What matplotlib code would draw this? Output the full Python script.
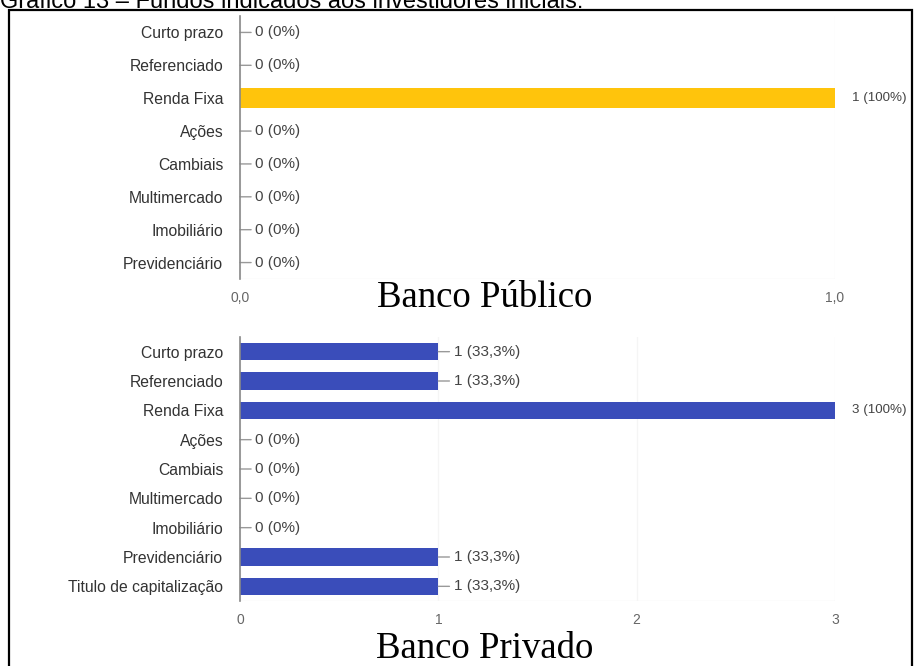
import matplotlib
matplotlib.use("Agg")
import matplotlib.pyplot as plt
from matplotlib.patches import Rectangle

# ---- data ----
pub_categories = ["Curto prazo", "Referenciado", "Renda Fixa", "Ações", "Cambiais",
                  "Multimercado", "Imobiliário", "Previdenciário"]
pub_values = [0, 0, 1, 0, 0, 0, 0, 0]
pub_respondents = 1
pub_ticks = [0, 1]
pub_ticklabels = ["0,0", "1,0"]

priv_categories = ["Curto prazo", "Referenciado", "Renda Fixa", "Ações", "Cambiais",
                   "Multimercado", "Imobiliário", "Previdenciário", "Titulo de capitalização"]
priv_values = [1, 1, 3, 0, 0, 0, 0, 1, 1]
priv_respondents = 3
priv_ticks = [0, 1, 2, 3]
priv_ticklabels = ["0", "1", "2", "3"]

title_text = "Gráfico 13 – Fundos indicados aos investidores iniciais:"
pub_title = "Banco Público"
priv_title = "Banco Privado"

W, H = 914, 666
fig = plt.figure(figsize=(W / 100, H / 100), dpi=100)
fig.patch.set_facecolor("white")

plt.rcParams["font.family"] = ["Liberation Sans", "DejaVu Sans"]


def fmt_pct(v, n):
    p = 100.0 * v / n
    if abs(p - round(p)) < 1e-9:
        return f"{int(round(p))}%"
    return f"{p:.1f}%".replace(".", ",")


def draw(ax, cats, vals, n, color, ticks, ticklabels, xmax):
    y = list(range(len(cats)))
    ax.barh(y, vals, height=0.6, color=color, zorder=3)
    ax.set_ylim(len(cats) - 0.5, -0.5)
    ax.set_xlim(0, xmax)
    ax.set_yticks(y)
    ax.set_yticklabels(cats, fontsize=11.3, color="#333333")
    ax.set_xticks(ticks)
    ax.set_xticklabels(ticklabels, fontsize=10, color="#666666")
    ax.tick_params(axis="y", length=0, pad=12)
    ax.tick_params(axis="x", length=0, pad=9)
    for s in ["top", "right", "bottom"]:
        ax.spines[s].set_visible(False)
    ax.spines["left"].set_color("#888888")
    ax.spines["left"].set_linewidth(1.2)
    ax.spines["left"].set_zorder(4)
    ax.grid(axis="x", color="#f5f5f5", lw=1, zorder=0)
    ax.axhline(len(cats) - 0.5, color="#f3f3f3", lw=1, zorder=0)
    vmax = max(vals)
    for i, v in enumerate(vals):
        lab = f"{v} ({fmt_pct(v, n)})"
        if v == vmax:
            ax.annotate(lab, xy=(v, i), xytext=(12, 0), textcoords="offset points",
                        ha="left", va="center", fontsize=9.6, color="#444444",
                        annotation_clip=False)
        else:
            ax.annotate(lab, xy=(v, i), xytext=(11, 0), textcoords="offset points",
                        ha="left", va="center", fontsize=11, color="#444444",
                        annotation_clip=False,
                        arrowprops=dict(arrowstyle="-", color="#999999", lw=1,
                                        relpos=(0, 0.5), shrinkA=1, shrinkB=0))


x0 = 240 / W
wax = 595 / W
ax1 = fig.add_axes([x0, 1 - 279 / H, wax, 263 / H])
draw(ax1, pub_categories, pub_values, pub_respondents, "#FFC40C",
     pub_ticks, pub_ticklabels, 1)

ax2 = fig.add_axes([x0, 1 - 601 / H, wax, 264 / H])
draw(ax2, priv_categories, priv_values, priv_respondents, "#3A4DBA",
     priv_ticks, priv_ticklabels, 3)

fig.text(485 / W, 1 - 298 / H, pub_title, family="Liberation Serif", fontsize=26.5,
         ha="center", va="center", color="black")
fig.text(485 / W, 1 - 649 / H, priv_title, family="Liberation Serif", fontsize=26.5,
         ha="center", va="center", color="black")

# caption at the top, cut off by the image edge as in the reference
fig.text(0.0, 1 - 8 / H, title_text, fontsize=17, ha="left", va="baseline", color="black")

# border box
fig.patches.append(Rectangle((9 / W, -0.05), (912 - 9) / W, 1.05 - 10 / H,
                             transform=fig.transFigure, fill=False,
                             edgecolor="black", lw=1.6, zorder=10))

fig.savefig("out.png", dpi=100, facecolor="white")
